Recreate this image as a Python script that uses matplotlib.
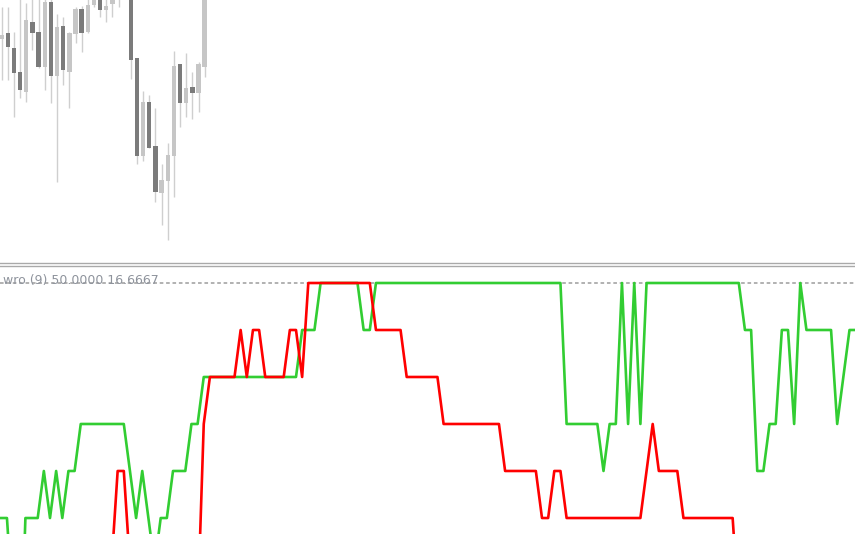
import matplotlib
matplotlib.use("Agg")
import matplotlib.pyplot as plt
from matplotlib.lines import Line2D

#======================================================================================================================

# price candles (open, high, low, close), one per bar
opens  = [1.24607, 1.24667, 1.24523, 1.24280, 1.24083, 1.24783, 1.24677, 1.24333, 1.24983, 1.24240,
          1.24740, 1.24283, 1.24657, 1.24907, 1.24683, 1.24950, 1.25030, 1.24900, 1.24960, 1.25040,
          1.25090, 1.25150, 1.24417, 1.23440, 1.23983, 1.23543, 1.23067, 1.23190, 1.23440, 1.24360,
          1.23973, 1.24127, 1.24067, 1.24327]
highs  = [1.24933, 1.24933, 1.24683, 1.25050, 1.24967, 1.25050, 1.25050, 1.25080, 1.25080, 1.24860,
          1.24833, 1.24683, 1.24933, 1.24940, 1.25060, 1.25080, 1.25090, 1.25040, 1.25070, 1.25110,
          1.25180, 1.25200, 1.24417, 1.24093, 1.24050, 1.23917, 1.23360, 1.23567, 1.24493, 1.24360,
          1.24467, 1.24283, 1.24383, 1.25300]
lows   = [1.24200, 1.24200, 1.23833, 1.24017, 1.23983, 1.24500, 1.24317, 1.24100, 1.23967, 1.23183,
          1.24150, 1.23917, 1.24567, 1.24483, 1.24667, 1.24933, 1.24833, 1.24783, 1.24833, 1.24933,
          1.25030, 1.24210, 1.23360, 1.23393, 1.23517, 1.22983, 1.22750, 1.22600, 1.23033, 1.23733,
          1.23833, 1.23810, 1.23883, 1.24233]
closes = [1.24650, 1.24533, 1.24273, 1.24100, 1.24800, 1.24673, 1.24333, 1.24983, 1.24240, 1.24727,
          1.24300, 1.24667, 1.24907, 1.24673, 1.24953, 1.25030, 1.24900, 1.24940, 1.25040, 1.25090,
          1.25150, 1.24400, 1.23440, 1.23983, 1.23517, 1.23083, 1.23200, 1.23450, 1.24340, 1.23973,
          1.24117, 1.24067, 1.24360, 1.25200]

# indicator lines, one value per bar
up_line = [44.44, 44.44, 22.22, 0.00, 44.44, 44.44, 44.44, 55.56, 44.44, 55.56,
           44.44, 55.56, 55.56, 66.67, 66.67, 66.67, 66.67, 66.67, 66.67, 66.67,
           66.67, 55.56, 44.44, 55.56, 44.44, 33.33, 44.44, 44.44, 55.56, 55.56,
           55.56, 66.67, 66.67, 77.78, 77.78, 77.78, 77.78, 77.78, 77.78, 77.78,
           77.78, 77.78, 77.78, 77.78, 77.78, 77.78, 77.78, 77.78, 77.78, 88.89,
           88.89, 88.89, 100.0, 100.0, 100.0, 100.0, 100.0, 100.0, 100.0, 88.89,
           88.89, 100.0, 100.0, 100.0, 100.0, 100.0, 100.0, 100.0, 100.0, 100.0,
           100.0, 100.0, 100.0, 100.0, 100.0, 100.0, 100.0, 100.0, 100.0, 100.0,
           100.0, 100.0, 100.0, 100.0, 100.0, 100.0, 100.0, 100.0, 100.0, 100.0,
           100.0, 100.0, 66.67, 66.67, 66.67, 66.67, 66.67, 66.67, 55.56, 66.67,
           66.67, 100.0, 66.67, 100.0, 66.67, 100.0, 100.0, 100.0, 100.0, 100.0,
           100.0, 100.0, 100.0, 100.0, 100.0, 100.0, 100.0, 100.0, 100.0, 100.0,
           100.0, 88.89, 88.89, 55.56, 55.56, 66.67, 66.67, 88.89, 88.89, 66.67,
           100.0, 88.89, 88.89, 88.89, 88.89, 88.89, 66.67, 77.78, 88.89, 88.89]
down_line = [11.11, 0.00, 0.00, 11.11, 22.22, 11.11, 0.00, 0.00, 0.00, 11.11,
             22.22, 33.33, 22.22, 11.11, 0.00, 0.00, 11.11, 22.22, 33.33, 55.56,
             55.56, 33.33, 22.22, 11.11, 0.00, 0.00, 0.00, 0.00, 0.00, 0.00,
             0.00, 0.00, 22.22, 66.67, 77.78, 77.78, 77.78, 77.78, 77.78, 88.89,
             77.78, 88.89, 88.89, 77.78, 77.78, 77.78, 77.78, 88.89, 88.89, 77.78,
             100.0, 100.0, 100.0, 100.0, 100.0, 100.0, 100.0, 100.0, 100.0, 100.0,
             100.0, 88.89, 88.89, 88.89, 88.89, 88.89, 77.78, 77.78, 77.78, 77.78,
             77.78, 77.78, 66.67, 66.67, 66.67, 66.67, 66.67, 66.67, 66.67, 66.67,
             66.67, 66.67, 55.56, 55.56, 55.56, 55.56, 55.56, 55.56, 44.44, 44.44,
             55.56, 55.56, 44.44, 44.44, 44.44, 44.44, 44.44, 44.44, 44.44, 44.44,
             44.44, 44.44, 44.44, 44.44, 44.44, 55.56, 66.67, 55.56, 55.56, 55.56,
             55.56, 44.44, 44.44, 44.44, 44.44, 44.44, 44.44, 44.44, 44.44, 44.44,
             22.22, 11.11, 0.00, 0.00, 0.00, 0.00, 0.00, 11.11, 11.11, 11.11,
             0.00, 0.00, 0.00, 11.11, 22.22, 22.22, 11.11, 0.00, 0.00, 16.67]

LEVEL_TOP = 100.0
LABEL = "wro (9) 50.0000 16.6667"

#======================================================================================================================

W, H = 855, 534
BAR = 6.15  # px between bars

def drawCandles(ax):
    for i in range(len(opens)):
        bull = closes[i] >= opens[i]
        body = "#c6c6c6" if bull else "#7b7b7b"
        ax.vlines(i, lows[i], highs[i], color="#cfcfcf", linewidth=1.0, zorder=1)
        lo = min(opens[i], closes[i])
        ax.bar(i, abs(closes[i] - opens[i]), bottom=lo, width=0.7, color=body, linewidth=0, zorder=2)
    ax.set_xlim(-1.7 / BAR, (W - 1.7) / BAR)
    ax.set_ylim(1.2500 - 0.0262, 1.2500)
    ax.set_axis_off()

def drawIndicator(ax):
    x = range(len(up_line))
    ax.axhline(LEVEL_TOP, color="#9c9c9c", linewidth=1.1, dashes=(2.6, 2.0), zorder=1)
    ax.plot(x, up_line, color="#32cd32", linewidth=1.9, zorder=2)
    ax.plot(x, down_line, color="#ff0000", linewidth=1.9, zorder=3)
    ax.text(3 / W, (H - 284) / 267, LABEL, transform=ax.transAxes, fontsize=9,
            color="#8e939c", va="baseline", ha="left", zorder=4)
    ppu = 47 / 11.111  # px per unit
    ax.set_xlim(-0.8 / BAR, (W - 0.8) / BAR)
    ax.set_ylim(LEVEL_TOP - 251 / ppu, LEVEL_TOP + 16 / ppu)
    ax.set_axis_off()

def main():
    plt.rcParams["lines.scale_dashes"] = False
    fig = plt.figure(figsize=(W / 100, H / 100), dpi=100)
    ax_top = fig.add_axes([0, 1 - 262 / H, 1, 262 / H])
    ax_bot = fig.add_axes([0, 0, 1, 267 / H])
    drawCandles(ax_top)
    drawIndicator(ax_bot)

    # panel separator
    for y in (263.2, 266.4):
        fig.add_artist(Line2D([0, 1], [1 - y / H] * 2, transform=fig.transFigure,
                              color="#a9a9a9", linewidth=1.0))

    fig.savefig("out.png", dpi=100)

#======================================================================================================================

if __name__ == "__main__":
    main()
